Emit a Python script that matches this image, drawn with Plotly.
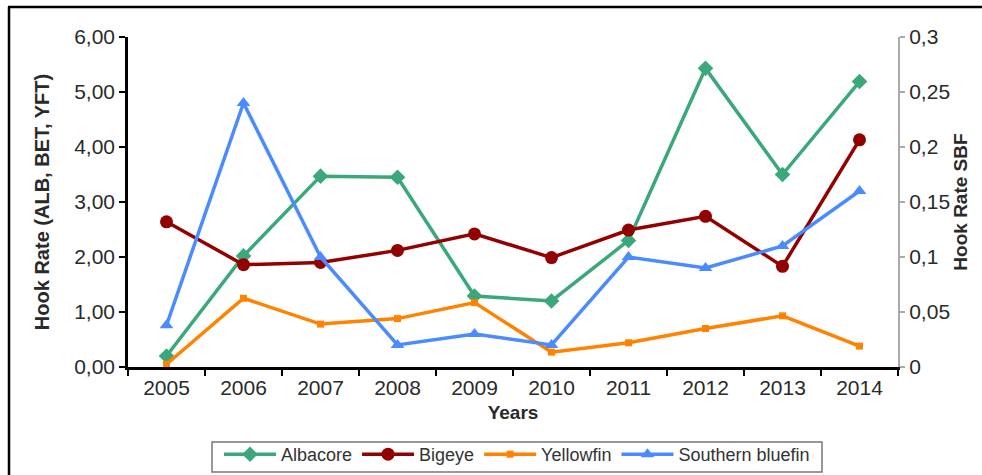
import plotly.graph_objects as go

years = ["2005", "2006", "2007", "2008", "2009", "2010", "2011", "2012", "2013", "2014"]
albacore = [0.20, 2.02, 3.47, 3.45, 1.29, 1.20, 2.30, 5.43, 3.50, 5.19]
bigeye = [2.64, 1.86, 1.90, 2.12, 2.42, 1.99, 2.49, 2.74, 1.83, 4.13]
yellowfin = [0.05, 1.25, 0.78, 0.88, 1.17, 0.27, 0.44, 0.70, 0.93, 0.38]
southern_bluefin = [0.038, 0.24, 0.10, 0.02, 0.03, 0.02, 0.10, 0.09, 0.11, 0.16]

left_ticks = [0, 1, 2, 3, 4, 5, 6]
right_ticks = [0, 0.05, 0.1, 0.15, 0.2, 0.25, 0.3]
right_labels = ["0", "0,05", "0,1", "0,15", "0,2", "0,25", "0,3"]

FONT = "Liberation Sans, Arial, sans-serif"
TXT = "#2a2a2a"

fig = go.Figure()
fig.add_trace(go.Scatter(x=years, y=albacore, name="Albacore", mode="lines+markers",
                         line=dict(color="#3aa87a", width=3.5),
                         marker=dict(symbol="diamond", size=12, color="#3aa87a")))
fig.add_trace(go.Scatter(x=years, y=bigeye, name="Bigeye", mode="lines+markers",
                         line=dict(color="#930000", width=3.5),
                         marker=dict(symbol="circle", size=13, color="#930000")))
fig.add_trace(go.Scatter(x=years, y=yellowfin, name="Yellowfin", mode="lines+markers",
                         line=dict(color="#ff8200", width=3.5),
                         marker=dict(symbol="square", size=7, color="#ff8200")))
fig.add_trace(go.Scatter(x=years, y=southern_bluefin, name="Southern bluefin", mode="lines+markers",
                         yaxis="y2",
                         line=dict(color="#4a8cff", width=3.5),
                         marker=dict(symbol="triangle-up", size=12, color="#4a8cff")))

W, H = 982, 475
L, R, T, B = 128, 84, 37, 108
pw, ph = W - L - R, H - T - B

def px(xp):
    return (xp - L) / pw

def py(yp):
    return (H - B - yp) / ph

fig.update_layout(
    width=W, height=H,
    margin=dict(l=L, r=R, t=T, b=B, autoexpand=False),
    paper_bgcolor="white", plot_bgcolor="white",
    separators=",.",
    font=dict(family=FONT, size=21, color=TXT),
    showlegend=True,
    legend=dict(orientation="h", x=px(517), xanchor="center", y=py(436), yanchor="top",
                borderwidth=0, bgcolor="rgba(0,0,0,0)", valign="middle",
                font=dict(size=18, color="#333"), itemwidth=52, tracegroupgap=0),
    xaxis=dict(type="category", showline=True, linecolor="black", linewidth=2.5,
               ticks="outside", tickson="boundaries", ticklen=6, tickwidth=2, tickcolor="black",
               showgrid=False, zeroline=False, automargin=False,
               tickfont=dict(size=21, color=TXT),
               title=dict(text="<b>Years</b>", font=dict(size=19, color=TXT), standoff=8),
               range=[-0.5, 9.5]),
    yaxis=dict(range=[0, 6], tickvals=left_ticks, tickformat=".2f",
               showline=True, linecolor="black", linewidth=2.5,
               ticks="outside", ticklen=6, tickwidth=2, tickcolor="black",
               showgrid=False, zeroline=False, automargin=False,
               tickfont=dict(size=21, color=TXT),
               title=dict(text="<b>Hook Rate (ALB, BET, YFT)</b>", font=dict(size=20, color=TXT), standoff=20)),
    yaxis2=dict(range=[0, 0.3], overlaying="y", side="right", tickvals=right_ticks, ticktext=right_labels,
                showline=True, linecolor="#aaaaaa", linewidth=2,
                ticks="outside", ticklen=5, tickwidth=1.5, tickcolor="#aaaaaa",
                showgrid=False, zeroline=False, automargin=False,
                tickfont=dict(size=21, color=TXT),
                title=dict(text="<b>Hook Rate SBF</b>", font=dict(size=19, color=TXT), standoff=2)),
    shapes=[
        dict(type="line", xref="paper", yref="paper", x0=px(9), x1=px(9), y0=py(7), y1=py(480),
             line=dict(color="black", width=2.5)),
        dict(type="line", xref="paper", yref="paper", x0=px(8), x1=px(990), y0=py(7), y1=py(7),
             line=dict(color="black", width=2.5)),
        dict(type="rect", xref="paper", yref="paper", x0=px(212), x1=px(822), y0=py(442), y1=py(472),
             line=dict(color="#777", width=1.5), fillcolor="rgba(0,0,0,0)", layer="below"),
    ],
)

fig.write_html("out.html")
